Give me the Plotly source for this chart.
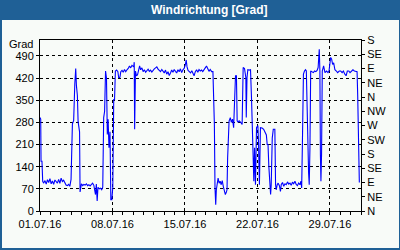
import pandas as pd
import plotly.graph_objects as go

# ---- data (days since 01.07.2016 00:00, wind direction in degrees) ----
day_offsets = [
    0.00, 0.07, 0.10, 0.19, 0.26, 0.36, 0.48, 0.60, 0.72, 0.84, 0.96, 1.08, 1.20, 1.32, 1.44,
    1.56, 1.68, 1.80, 1.92, 2.04, 2.16, 2.28, 2.40, 2.52, 2.64, 2.76, 2.88, 3.00, 3.13, 3.25,
    3.36, 3.45, 3.52, 3.61, 3.68, 3.75, 3.82, 3.87, 3.93, 4.00, 4.12, 4.24, 4.36, 4.48, 4.60,
    4.72, 4.84, 4.96, 5.08, 5.20, 5.30, 5.36, 5.44, 5.52, 5.60, 5.72, 5.84, 5.96, 6.06, 6.15,
    6.24, 6.33, 6.42, 6.50, 6.58, 6.66, 6.76, 6.84, 6.94, 7.03, 7.12, 7.20, 7.28, 7.40, 7.52,
    7.60, 7.72, 7.80, 7.92, 8.04, 8.16, 8.28, 8.40, 8.52, 8.64, 8.76, 8.88, 9.05, 9.10, 9.14,
    9.22, 9.32, 9.42, 9.52, 9.62, 9.72, 9.84, 9.96, 10.08, 10.20, 10.32, 10.44, 10.56, 10.68,
    10.80, 10.92, 11.04, 11.16, 11.28, 11.40, 11.52, 11.64, 11.76, 11.88, 12.00, 12.12, 12.24,
    12.36, 12.48, 12.60, 12.72, 12.84, 12.96, 13.08, 13.20, 13.32, 13.44, 13.56, 13.68, 13.80,
    13.92, 14.04, 14.12, 14.20, 14.30, 14.42, 14.54, 14.66, 14.78, 14.88, 15.00, 15.12, 15.24,
    15.36, 15.48, 15.60, 15.72, 15.84, 15.96, 16.08, 16.20, 16.32, 16.44, 16.58, 16.70, 16.78,
    16.84, 16.90, 16.97, 17.03, 17.12, 17.20, 17.30, 17.40, 17.50, 17.60, 17.70, 17.80, 17.90,
    18.00, 18.06, 18.12, 18.26, 18.38, 18.48, 18.59, 18.70, 18.78, 18.88, 18.97, 19.04, 19.13,
    19.23, 19.36, 19.52, 19.62, 19.75, 19.88, 19.92, 19.99, 20.07, 20.20, 20.33, 20.43, 20.55,
    20.65, 20.72, 20.81, 20.91, 21.04, 21.10, 21.19, 21.29, 21.45, 21.60, 21.70, 21.78, 21.86,
    21.94, 22.02, 22.10, 22.20, 22.27, 22.33, 22.43, 22.53, 22.68, 22.75, 22.81, 22.91, 23.00,
    23.12, 23.22, 23.30, 23.42, 23.54, 23.66, 23.78, 23.90, 24.02, 24.14, 24.26, 24.38, 24.50,
    24.62, 24.74, 24.86, 24.98, 25.10, 25.20, 25.27, 25.34, 25.44, 25.54, 25.64, 25.72, 25.80,
    25.87, 25.94, 26.00, 26.07, 26.14, 26.26, 26.40, 26.52, 26.64, 26.76, 26.86, 26.97, 27.03,
    27.08, 27.13, 27.19, 27.26, 27.39, 27.52, 27.68, 27.81, 27.91, 28.07, 28.16, 28.26, 28.36,
    28.48, 28.62, 28.74, 28.90, 29.04, 29.18, 29.30, 29.44, 29.56, 29.68, 29.82, 29.94, 30.08,
    30.22, 30.36, 30.52, 30.62, 30.68, 30.74, 30.80, 30.84,
]
direction_deg = [
    295, 290, 157, 157, 94, 88, 96, 85, 99, 90, 102, 86, 95, 84, 98,
    91, 88, 100, 87, 104, 93, 97, 86, 82, 80, 84, 78, 100, 275, 285,
    400, 450, 395, 365, 282, 255, 250, 60, 75, 86, 80, 84, 82, 86, 80,
    83, 79, 85, 88, 81, 52, 52, 85, 32, 75, 70, 72, 67, 75, 295,
    315, 442, 420, 242, 290, 200, 250, 36, 36, 75, 352, 352, 442, 445, 440,
    421, 422, 440, 444, 438, 447, 440, 446, 450, 458, 452, 460, 455, 470, 258,
    442, 427, 430, 450, 458, 446, 452, 440, 446, 438, 444, 448, 441, 445,
    439, 446, 449, 452, 455, 448, 444, 440, 447, 442, 436, 445, 432,
    440, 428, 436, 445, 438, 447, 441, 436, 446, 440, 449, 437, 446,
    450, 462, 477, 455, 444, 440, 436, 443, 432, 427, 440, 446, 438,
    447, 442, 445, 440, 448, 452, 458, 446, 441, 447, 440, 440, 337,
    273, 73, 20, 67, 90, 104, 88, 94, 83, 96, 78, 67, 52,
    60, 67, 168, 284, 295, 280, 290, 263, 337, 427, 427, 285, 281,
    285, 281, 273, 453, 450, 421, 295, 421, 446, 445, 446, 352, 189,
    94, 200, 83, 263, 270, 220, 83, 263, 262, 258, 250, 247, 240,
    210, 210, 141, 83, 52, 83, 231, 258, 258, 83, 67, 83, 88,
    80, 62, 84, 90, 78, 86, 83, 92, 85, 88, 81, 91, 86,
    94, 84, 80, 88, 83, 94, 73, 210, 432, 442, 446, 442, 300,
    210, 120, 83, 200, 442, 440, 437, 442, 440, 444, 453, 511, 442,
    178, 94, 178, 442, 458, 437, 442, 437, 442, 485, 480, 463, 468,
    446, 442, 437, 442, 442, 437, 442, 432, 427, 442, 442, 437, 442,
    446, 442, 442, 440, 367, 200, 170, 90,
]
start_date = "2016-07-01"
end_date = "2016-08-01"
left_ticks = [0, 70, 140, 210, 280, 350, 420, 490]
compass_vals = [0, 45, 90, 135, 180, 225, 270, 315, 360, 405, 450, 495, 540]
compass_text = ["N", "NE", "E", "SE", "S", "SW", "W", "NW", "N", "NE", "E", "SE", "S"]
title_text = "Windrichtung [Grad]"
unit_text = "Grad"

times = pd.Timestamp(start_date) + pd.to_timedelta(day_offsets, unit="D")

# ---- layout geometry ----
W, H = 400, 250
ML, MR, MT, MB = 40, 39, 40, 39
PW, PH = W - ML - MR, H - MT - MB
BLUE = "#1f6096"
PANEL = "#f8fbf8"


def px_x(px):
    return (px - ML) / PW


def px_y(py):
    return (H - MB - py) / PH


FONT = "Liberation Sans, Arial, sans-serif"

fig = go.Figure()
fig.add_trace(go.Scatter(x=times, y=direction_deg, mode="lines",
                         line=dict(color="#0000ff", width=1.1),
                         showlegend=False, hoverinfo="skip"))
fig.add_trace(go.Scatter(x=times, y=direction_deg, mode="lines", yaxis="y2",
                         line=dict(color="rgba(0,0,0,0)", width=0),
                         showlegend=False, hoverinfo="skip"))

grid = dict(showgrid=True, gridcolor="black", gridwidth=1, griddash="3px,3px")
common = dict(showline=True, linecolor="black", linewidth=1, ticks="outside",
              ticklen=3, tickcolor="black", tickwidth=1, zeroline=False,
              tickfont=dict(family=FONT, size=11, color="black"))

fig.update_layout(
    width=W, height=H, autosize=False,
    margin=dict(l=ML, r=MR, t=MT, b=MB, pad=0),
    paper_bgcolor=BLUE, plot_bgcolor="rgba(0,0,0,0)",
    xaxis=dict(type="date", range=[start_date, end_date], tick0=start_date,
               dtick=7 * 86400000, tickformat="%d.%m.%y", mirror=True,
               minor=dict(dtick=86400000, ticks="outside", ticklen=3,
                          tickcolor="black", showgrid=False),
               **grid, **common),
    yaxis=dict(range=[0, 540], tickvals=left_ticks, mirror=True, **grid, **common),
    yaxis2=dict(range=[0, 540], overlaying="y", side="right", tickvals=compass_vals,
                ticktext=compass_text, showgrid=False, **common),
    shapes=[dict(type="rect", xref="paper", yref="paper", layer="below",
                 x0=px_x(2), x1=px_x(W - 1), y0=px_y(H - 2), y1=px_y(20),
                 fillcolor=PANEL, line=dict(width=0))],
    annotations=[
        dict(text=title_text, xref="paper", yref="paper", x=px_x(209.5), y=px_y(10),
             xanchor="center", yanchor="middle", showarrow=False,
             font=dict(family=FONT, size=12, color="white", weight="bold")),
        dict(text=unit_text, xref="paper", yref="paper", x=px_x(35), y=px_y(43.5),
             xanchor="right", yanchor="middle", showarrow=False,
             font=dict(family=FONT, size=11, color="black")),
    ],
)

fig.write_html("out.html")
